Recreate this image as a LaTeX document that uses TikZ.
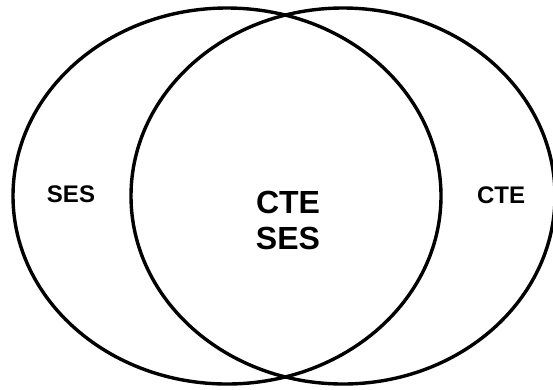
\documentclass[tikz,border=0pt]{standalone}
\usepackage{fontspec}
\setmainfont{Liberation Sans}
\usetikzlibrary{shapes.geometric}
\tikzset{
  venn/.style={ellipse, draw=black, line width=3.4pt, inner sep=0pt, minimum width=#1},
  sidelabel/.style={font=\bfseries\fontsize{24}{28}\selectfont, inner sep=0pt},
  centerlabel/.style={font=\bfseries\fontsize{32}{36}\selectfont, align=center, inner sep=0pt}
}
\begin{document}
\begin{tikzpicture}[x=1pt,y=-1pt]
\useasboundingbox (0,0) rectangle (553,389);
\fill[white] (0,0) rectangle (553,389);
\node[venn=428pt, minimum height=376pt] (ses) at (227,196) {};
\node[venn=424pt, minimum height=376pt] (cte) at (343,196) {};
\node[sidelabel] (seslabel) at (71,194) {SES};
\node[sidelabel] (ctelabel) at (501,195) {CTE};
\node[centerlabel] (both) at (288,220) {CTE\\SES};
\end{tikzpicture}
\end{document}
